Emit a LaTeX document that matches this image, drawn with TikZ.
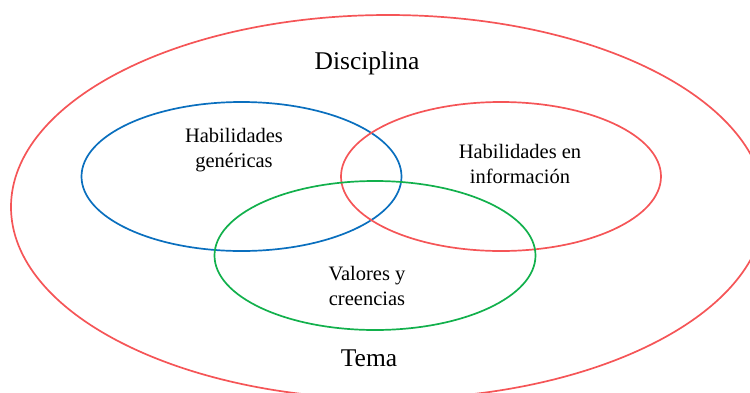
\documentclass[tikz,border=0pt]{standalone}
\usepackage{fontspec}
\setmainfont{Liberation Serif}
\definecolor{cred}{HTML}{F55557}
\definecolor{cblue}{HTML}{0A6FBE}
\definecolor{cgreen}{HTML}{12B04C}
\tikzset{
  ring/.style={line width=1.7pt},
  biglabel/.style={font=\fontsize{25.5}{30}\selectfont, inner sep=0pt},
  smalllabel/.style={font=\fontsize{20.5}{25}\selectfont, align=center, inner sep=0pt}
}
\begin{document}
\begin{tikzpicture}[x=1pt,y=-1pt]
\useasboundingbox (0,0) rectangle (750,392);
\begin{scope}
\clip (0,0) rectangle (750,392);
\draw[ring, cred] (388,207) ellipse [x radius=377, y radius=192];
\end{scope}
\draw[ring, cblue] (241.5,176.5) ellipse [x radius=160, y radius=74.5];
\draw[ring, cred] (501,176.5) ellipse [x radius=160, y radius=74.5];
\draw[ring, cgreen] (375,255.5) ellipse [x radius=160.5, y radius=74.5];
\node[biglabel] (disc) at (367,63) {Disciplina};
\node[biglabel] (tema) at (369,358) {Tema};
\node[smalllabel] (gen) at (234,150.5) {Habilidades\\genéricas};
\node[smalllabel] (inf) at (520,163.5) {Habilidades en\\información};
\node[smalllabel] (val) at (367,285.5) {Valores y\\creencias};
\end{tikzpicture}
\end{document}
